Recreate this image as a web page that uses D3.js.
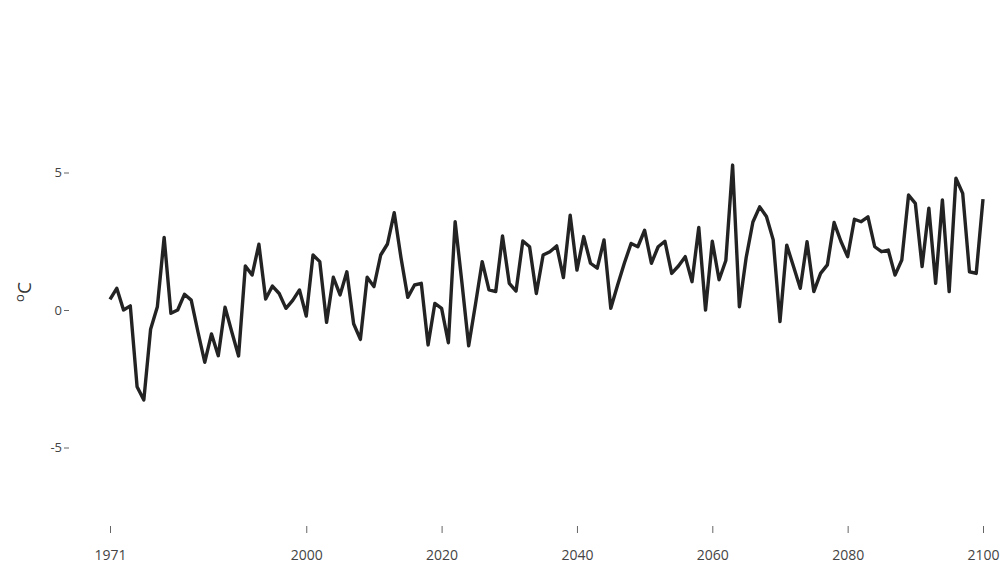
<!DOCTYPE html>
<html>
<head>
<meta charset="utf-8">
<script src="https://cdn.jsdelivr.net/npm/d3@7"></script>
<style>
  body { margin: 0; background: #fff; }
  #graphic { width: 1003px; height: 566px; }
  .axis text { font-family: "Open Sans", sans-serif; fill: #444; }
  .axis path { display: none; }
  .axis line { stroke: #666; }
</style>
</head>
<body>
<div id="graphic"></div>
<script>
var firstYear = 1971;
// annual anomaly, degC, 1971..2100
var anomaly = [
  0.39, 0.79, 0.0, 0.15, -2.79, -3.27, -0.7, 0.12, 2.64, -0.12,
  0.0, 0.57, 0.36, -0.8, -1.9, -0.87, -1.66, 0.1, -0.8, -1.67,
  1.6, 1.27, 2.39, 0.4, 0.87, 0.6, 0.06, 0.35, 0.73, -0.22,
  2.0, 1.76, -0.45, 1.19, 0.55, 1.39, -0.5, -1.07, 1.19, 0.85,
  2.0, 2.4, 3.54, 1.9, 0.46, 0.91, 0.97, -1.27, 0.24, 0.06,
  -1.19, 3.21, 1.0, -1.3, 0.2, 1.76, 0.73, 0.67, 2.69, 0.97,
  0.69, 2.51, 2.3, 0.6, 2.0, 2.12, 2.33, 1.18, 3.45, 1.45,
  2.67, 1.7, 1.52, 2.55, 0.06, 0.9, 1.7, 2.42, 2.3, 2.9,
  1.7, 2.3, 2.5, 1.33, 1.6, 1.94, 1.03, 3.0, 0.0, 2.5,
  1.1, 1.8, 5.27, 0.12, 1.9, 3.2, 3.75, 3.4, 2.55, -0.42,
  2.36, 1.58, 0.79, 2.48, 0.67, 1.33, 1.64, 3.18, 2.5, 1.94,
  3.3, 3.21, 3.39, 2.3, 2.12, 2.18, 1.27, 1.82, 4.18, 3.88,
  1.58, 3.7, 0.97, 4.0, 0.67, 4.79, 4.24, 1.39, 1.33, 4.03
];
var xTicks = [1971, 2000, 2020, 2040, 2060, 2080, 2100];
var yTicks = [-5, 0, 5];

var data = anomaly.map(function (v, i) { return { year: firstYear + i, value: v }; });

var svg = d3.select("#graphic").append("svg")
  .attr("width", 1003)
  .attr("height", 566);

// Scales
var x = d3.scaleLinear().domain([1971, 2100]).range([110, 983]);
var y = d3.scaleLinear().domain([-5, 5]).range([447.5, 172.5]);

// Axes (plain hyphen for negatives, like the original)
var yAxis = d3.axisLeft(y).tickValues(yTicks).tickSize(5).tickPadding(2)
  .tickFormat(function (d) { return String(d); });
svg.append("g").attr("class", "y axis")
  .attr("transform", "translate(69,0)")
  .call(yAxis)
  .selectAll("text").style("font-size", "13px");

var xAxis = d3.axisBottom(x).tickValues(xTicks).tickSize(7).tickPadding(17)
  .tickFormat(d3.format("d"));
svg.append("g").attr("class", "x axis")
  .attr("transform", "translate(0,526)")
  .call(xAxis)
  .selectAll("text").style("font-size", "14px");

// y axis title
var yTitle = svg.append("text")
  .attr("transform", "translate(29,292) rotate(-90)")
  .attr("text-anchor", "middle")
  .style("font-family", "'Open Sans', sans-serif")
  .style("fill", "#333");
yTitle.append("tspan").attr("dy", "-0.4em").style("font-size", "13px").text("o");
yTitle.append("tspan").attr("dy", "0.4em").style("font-size", "19px").text("C");

// Line
var line = d3.line()
  .x(function (d) { return x(d.year); })
  .y(function (d) { return y(d.value); });

svg.append("path")
  .datum(data)
  .attr("fill", "none")
  .attr("stroke", "#232323")
  .attr("stroke-width", 3.4)
  .attr("stroke-linejoin", "round")
  .attr("d", line);
</script>
</body>
</html>
